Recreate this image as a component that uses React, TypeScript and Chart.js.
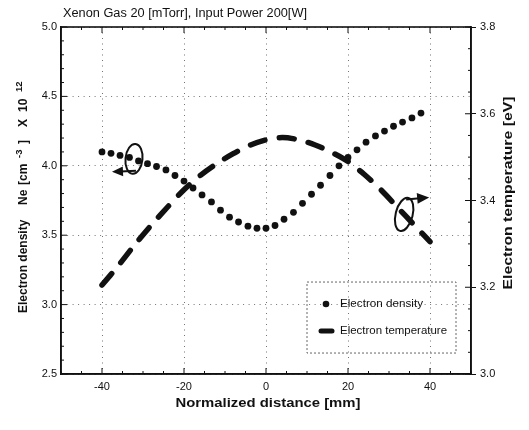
import React, { useEffect, useRef } from "react";
import { Chart, registerables } from "chart.js";

Chart.register(...registerables);

const chartTitle = "Xenon Gas 20 [mTorr], Input Power 200[W]";
const xAxisTitle = "Normalized distance [mm]";
const rightAxisTitle = "Electron temperature [eV]";
const leftAxisTitleParts = [
  { text: "Electron density", sup: false },
  { text: "Ne", sup: false },
  { text: "[cm", sup: false },
  { text: "-3", sup: true },
  { text: "]", sup: false },
  { text: "X", sup: false },
  { text: "10", sup: false },
  { text: "12", sup: true },
];
const seriesNames = ["Electron density", "Electron temperature"];

const densityDistance = [
  -40, -37.8, -35.6, -33.3, -31.1, -28.9, -26.7, -24.4, -22.2, -20, -17.8, -15.6,
  -13.3, -11.1, -8.9, -6.7, -4.4, -2.2, 0, 2.2, 4.4, 6.7, 8.9, 11.1, 13.3, 15.6,
  17.8, 20, 22.2, 24.4, 26.7, 28.9, 31.1, 33.3, 35.6, 37.8,
];
const densityValues = [
  4.1, 4.09, 4.075, 4.06, 4.035, 4.015, 3.995, 3.97, 3.93, 3.89, 3.84, 3.79,
  3.74, 3.68, 3.63, 3.595, 3.565, 3.55, 3.55, 3.57, 3.615, 3.665, 3.73, 3.795,
  3.86, 3.93, 4.0, 4.06, 4.115, 4.17, 4.215, 4.25, 4.285, 4.315, 4.345, 4.38,
];

const temperatureDistance = [
  -40, -36, -32, -28, -24, -20, -16, -12, -8, -4, 0, 4, 8, 12, 16, 20, 24, 28, 32, 36, 40,
];
const temperatureValues = [
  3.205, 3.25, 3.298, 3.343, 3.385, 3.425, 3.458, 3.485, 3.508, 3.527, 3.54, 3.545,
  3.54, 3.528, 3.511, 3.49, 3.46, 3.425, 3.385, 3.345, 3.305,
];

const xTickValues = [-40, -20, 0, 20, 40];

// offsets (px, along the rotated axis from its start) for the left title pieces
const leftTitleOffsets = [0, 108, 128, 155, 169, 186, 201, 221];

function drawFitted(ctx: CanvasRenderingContext2D, text: string, cx: number, cy: number, font: string, width: number, rotate = 0, align: CanvasTextAlign = "center") {
  ctx.save();
  ctx.translate(cx, cy);
  if (rotate) ctx.rotate(rotate);
  ctx.font = font;
  const w = ctx.measureText(text).width;
  const s = width ? width / w : 1;
  ctx.scale(s, 1);
  ctx.textAlign = align;
  ctx.textBaseline = "middle";
  ctx.fillText(text, 0, 0);
  ctx.restore();
}

function arrow(ctx: CanvasRenderingContext2D, x1: number, y1: number, x2: number, y2: number, head: number) {
  const ang = Math.atan2(y2 - y1, x2 - x1);
  ctx.beginPath();
  ctx.moveTo(x1, y1);
  ctx.lineTo(x2 - Math.cos(ang) * head * 0.8, y2 - Math.sin(ang) * head * 0.8);
  ctx.stroke();
  ctx.beginPath();
  ctx.moveTo(x2, y2);
  ctx.lineTo(x2 - Math.cos(ang) * head + Math.sin(ang) * head * 0.45, y2 - Math.sin(ang) * head - Math.cos(ang) * head * 0.45);
  ctx.lineTo(x2 - Math.cos(ang) * head - Math.sin(ang) * head * 0.45, y2 - Math.sin(ang) * head + Math.cos(ang) * head * 0.45);
  ctx.closePath();
  ctx.fill();
}

const decorPlugin = {
  id: "decor",
  afterDraw(chart: any) {
    const { ctx, chartArea: ca, scales } = chart;
    const x = scales.x, y = scales.y, y2 = scales.y2;
    ctx.save();
    ctx.fillStyle = "#111";
    ctx.strokeStyle = "#111";

    // frame
    ctx.lineWidth = 1.6;
    ctx.strokeRect(ca.left, ca.top, ca.right - ca.left, ca.bottom - ca.top);

    // inward ticks
    ctx.lineWidth = 1;
    ctx.beginPath();
    for (let v = -50; v <= 50; v += 5) {
      const px = x.getPixelForValue(v);
      const len = v % 20 === 0 ? 6 : 3;
      ctx.moveTo(px, ca.bottom); ctx.lineTo(px, ca.bottom - len);
      ctx.moveTo(px, ca.top); ctx.lineTo(px, ca.top + len);
    }
    for (let i = 0; i <= 25; i++) {
      const py = y.getPixelForValue(2.5 + i * 0.1);
      const len = i % 5 === 0 ? 6 : 3;
      ctx.moveTo(ca.left, py); ctx.lineTo(ca.left + len, py);
    }
    for (let i = 0; i <= 16; i++) {
      const py = y2.getPixelForValue(3.0 + i * 0.05);
      const len = i % 4 === 0 ? 6 : 3;
      ctx.moveTo(ca.right, py); ctx.lineTo(ca.right - len, py);
    }
    ctx.stroke();

    // titles
    drawFitted(ctx, chartTitle, ca.left + 2, 14, "12px 'Liberation Sans', Arial, sans-serif", 244, 0, "left");
    drawFitted(ctx, xAxisTitle, (ca.left + ca.right) / 2 + 2, 403, "bold 13px 'Liberation Sans', Arial, sans-serif", 185);
    drawFitted(ctx, rightAxisTitle, 508, 193, "bold 13px 'Liberation Sans', Arial, sans-serif", 193, -Math.PI / 2);

    // left title with superscripts
    ctx.save();
    ctx.translate(27, 313);
    ctx.rotate(-Math.PI / 2);
    const mainFont = "bold 12px 'Liberation Sans', Arial, sans-serif";
    const supFont = "bold 9.5px 'Liberation Sans', Arial, sans-serif";
    ctx.textBaseline = "alphabetic";
    ctx.textAlign = "left";
    leftAxisTitleParts.forEach((p, i) => {
      ctx.font = p.sup ? supFont : mainFont;
      ctx.fillText(p.text, leftTitleOffsets[i], p.sup ? -5 : 0);
    });
    ctx.restore();

    // legend
    const w = ca.right - ca.left, h = ca.bottom - ca.top;
    const lx = ca.left + w * 0.6, ly = ca.top + h * 0.735;
    ctx.save();
    ctx.strokeStyle = "#666";
    ctx.lineWidth = 1;
    ctx.setLineDash([2, 2]);
    ctx.strokeRect(lx, ly, 149, 71);
    ctx.restore();
    ctx.beginPath();
    ctx.arc(lx + 19, ly + 22, 3.3, 0, Math.PI * 2);
    ctx.fill();
    ctx.save();
    ctx.lineWidth = 5;
    ctx.lineCap = "round";
    ctx.beginPath();
    ctx.moveTo(lx + 14, ly + 49);
    ctx.lineTo(lx + 25, ly + 49);
    ctx.stroke();
    ctx.restore();
    drawFitted(ctx, seriesNames[0], lx + 33, ly + 22, "11.5px 'Liberation Sans', Arial, sans-serif", 83, 0, "left");
    drawFitted(ctx, seriesNames[1], lx + 33, ly + 49, "11.5px 'Liberation Sans', Arial, sans-serif", 107, 0, "left");

    // ellipse annotations
    ctx.lineWidth = 2;
    const e1x = x.getPixelForValue(-32.2), e1y = y.getPixelForValue(4.05);
    ctx.beginPath();
    ctx.ellipse(e1x, e1y, 8.5, 15, 0.1, 0, Math.PI * 2);
    ctx.stroke();
    arrow(ctx, e1x + 2, e1y + 12, e1x - 22, e1y + 13, 11);

    const e2x = x.getPixelForValue(33.7), e2y = y2.getPixelForValue(3.368);
    ctx.beginPath();
    ctx.ellipse(e2x, e2y, 8.5, 17, 0.25, 0, Math.PI * 2);
    ctx.stroke();
    arrow(ctx, e2x + 2, e2y - 15, e2x + 25, e2y - 17, 12);

    ctx.restore();
  },
};

export default function App() {
  const ref = useRef<HTMLCanvasElement | null>(null);
  useEffect(() => {
    document.body.style.margin = "0";
    const canvas = ref.current!;
    const chart = new Chart(canvas, {
      type: "line",
      data: {
        datasets: [
          {
            label: seriesNames[0],
            data: densityDistance.map((d, i) => ({ x: d, y: densityValues[i] })),
            yAxisID: "y",
            showLine: false,
            pointRadius: 3.4,
            pointStyle: "circle",
            pointBackgroundColor: "#111",
            pointBorderWidth: 0,
            borderColor: "#111",
          },
          {
            label: seriesNames[1],
            data: temperatureDistance.map((d, i) => ({ x: d, y: temperatureValues[i] })),
            yAxisID: "y2",
            pointRadius: 0,
            borderColor: "#111",
            borderWidth: 5.5,
            borderDash: [15, 14.5],
            borderCapStyle: "round",
            tension: 0.3,
          },
        ],
      },
      options: {
        animation: false,
        responsive: false,
        devicePixelRatio: 1,
        layout: { padding: { top: 27, left: 0, right: 0, bottom: 0 } },
        plugins: { legend: { display: false }, tooltip: { enabled: false }, title: { display: false } },
        scales: {
          x: {
            type: "linear",
            min: -50,
            max: 50,
            afterBuildTicks: (s: any) => { s.ticks = xTickValues.map((v) => ({ value: v })); },
            afterFit: (s: any) => { s.height = 56; },
            ticks: { color: "#111", font: { family: "'Liberation Sans', Arial, sans-serif", size: 11 }, padding: 6, maxRotation: 0 },
            grid: { color: "rgba(0,0,0,0.55)", drawTicks: false, lineWidth: 1 },
            border: { display: true, color: "#111", width: 1.6, dash: [1, 4.5] },
          },
          y: {
            type: "linear",
            position: "left",
            min: 2.5,
            max: 5.0,
            ticks: { stepSize: 0.5, color: "#111", font: { family: "'Liberation Sans', Arial, sans-serif", size: 11 }, padding: 4, callback: (v: any) => Number(v).toFixed(1) },
            afterFit: (s: any) => { s.width = 61; },
            grid: { color: "rgba(0,0,0,0.55)", drawTicks: false, lineWidth: 1 },
            border: { display: true, color: "#111", width: 1.6, dash: [1, 4.5] },
          },
          y2: {
            type: "linear",
            position: "right",
            min: 3.0,
            max: 3.8,
            ticks: { stepSize: 0.2, color: "#111", font: { family: "'Liberation Sans', Arial, sans-serif", size: 11 }, padding: 4, callback: (v: any) => Number(v).toFixed(1) },
            afterFit: (s: any) => { s.width = 58; },
            grid: { drawOnChartArea: false, drawTicks: true, tickLength: 5, color: "#111" },
            border: { display: true, color: "#111", width: 1.6 },
          },
        },
      },
      plugins: [decorPlugin],
    } as any);
    return () => chart.destroy();
  }, []);
  return (
    <div style={{ position: "fixed", left: 0, top: 0, width: 529, height: 430, background: "#fff" }}>
      <canvas ref={ref} width={529} height={430} style={{ width: 529, height: 430, display: "block" }} />
    </div>
  );
}
